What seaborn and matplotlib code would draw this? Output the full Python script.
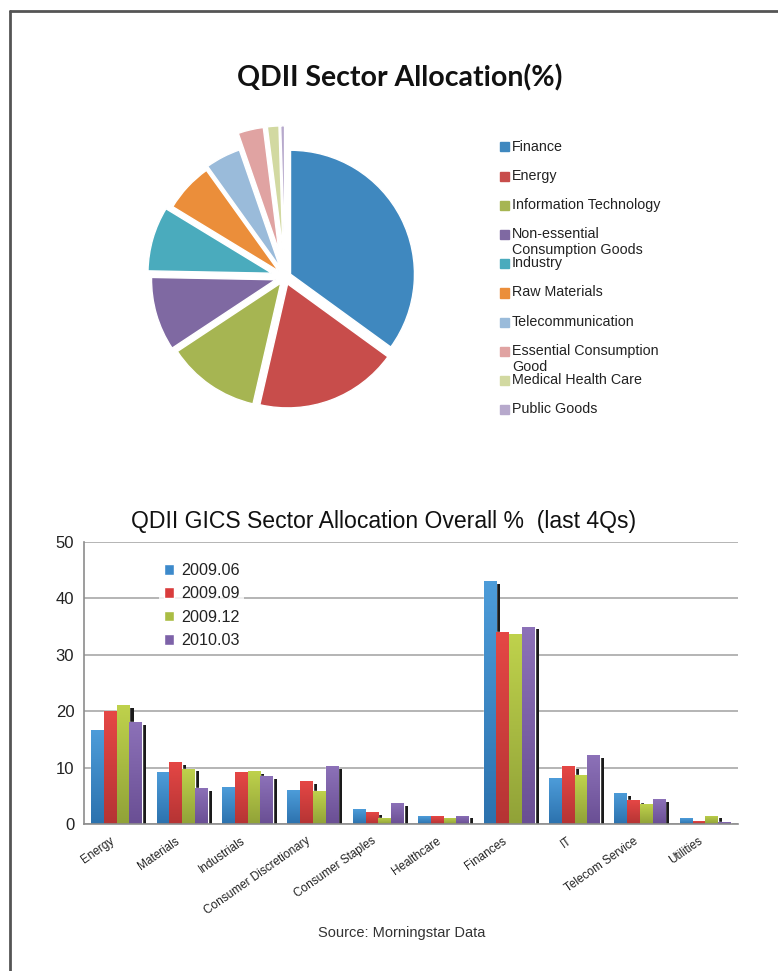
import numpy as np
import pandas as pd
import matplotlib
matplotlib.use('Agg')
import matplotlib.pyplot as plt
import matplotlib.transforms as mtransforms
import seaborn as sns
from matplotlib.colors import LinearSegmentedColormap
from matplotlib.patches import Rectangle
from matplotlib.lines import Line2D

# Pie data: QDII sector allocation (%)
pie_labels = ['Finance', 'Energy', 'Information Technology',
              'Non-essential\nConsumption Goods', 'Industry', 'Raw Materials',
              'Telecommunication', 'Essential Consumption\nGood',
              'Medical Health Care', 'Public Goods']
pie_values = [35.0, 18.6, 12.1, 9.6, 8.4, 6.4, 4.6, 3.3, 1.5, 0.5]
pie_explode = [0.05, 0.06, 0.06, 0.08, 0.11, 0.07, 0.09, 0.22, 0.22, 0.22]
pie_colors = ['#3F88BF', '#C84D4B', '#A6B552', '#7F69A2', '#4AABBD',
              '#EB8E3A', '#9ABBDA', '#E0A3A2', '#D2D9A1', '#B7A9CC']

# Bar data: GICS sector allocation, last 4 quarters
sectors = ['Energy', 'Materials', 'Industrials', 'Consumer Discretionary',
           'Consumer Staples', 'Healthcare', 'Finances', 'IT',
           'Telecom Service', 'Utilities']
quarters = ['2009.06', '2009.09', '2009.12', '2010.03']
q_2009_06 = [16.6, 9.2, 6.5, 6.0, 2.6, 1.4, 43.0, 8.1, 5.5, 1.0]
q_2009_09 = [20.0, 11.0, 9.2, 7.6, 2.1, 1.4, 34.1, 10.2, 4.2, 0.5]
q_2009_12 = [21.1, 9.8, 9.4, 5.8, 1.1, 1.1, 33.7, 8.6, 3.5, 1.5]
q_2010_03 = [18.1, 6.4, 8.5, 10.2, 3.7, 1.5, 35.0, 12.2, 4.4, 0.3]

bar_colors = ['#3D8ACB', '#D93C3C', '#AABD44', '#7D62A8']
grad_top = ['#4D9CD9', '#E54745', '#BFD24C', '#8C71B8']
grad_bottom = ['#2C72AE', '#B53434', '#91A238', '#6A4F94']

df = pd.DataFrame({
    'sector': sectors * 4,
    'quarter': np.repeat(quarters, len(sectors)),
    'value': q_2009_06 + q_2009_09 + q_2009_12 + q_2010_03,
})

sns.set_style('white')
plt.rcParams['font.family'] = ['Liberation Sans', 'DejaVu Sans']

W, H = 778, 971
fig = plt.figure(figsize=(W / 100, H / 100), dpi=100)


def fx(px):
    return px / W


def fy(py):
    return 1 - py / H


# ---- Pie chart ----
cx, cy, half = 285, 277, 145
ax_pie = fig.add_axes([fx(cx - half), fy(cy + half), fx(2 * half), 2 * half / H])
ax_pie.pie(pie_values, colors=pie_colors, startangle=90, counterclock=False,
           explode=pie_explode,
           wedgeprops=dict(edgecolor='white', linewidth=1))
ax_pie.set_xlim(-1.17, 1.17)
ax_pie.set_ylim(-1.17, 1.17)
ax_pie.set_aspect('equal')
ax_pie.axis('off')

fig.text(fx(400), fy(78), 'QDII Sector Allocation(%)', ha='center', va='center',
         fontsize=20.5, fontweight='bold', family=['Lato', 'DejaVu Sans'], color='#111111')

# manual legend for the pie
for i, (lab, col) in enumerate(zip(pie_labels, pie_colors)):
    ry = 147 + i * 29.2
    fig.patches.append(Rectangle((fx(500), fy(ry + 4.5)), fx(9), 9 / H, color=col,
                                 transform=fig.transFigure, figure=fig))
    fig.text(fx(512), fy(ry - 7.5), lab, ha='left', va='top', fontsize=10.3,
             color='#222222', linespacing=1.15)

# ---- Bar chart ----
ax = fig.add_axes([fx(84), fy(824), fx(738 - 84), (824 - 542) / H])
sns.barplot(data=df, x='sector', y='value', hue='quarter', palette=bar_colors,
            width=0.78, ax=ax, zorder=2, saturation=1)

ax.set_ylim(0, 50)
ax.set_xlim(-0.5, len(sectors) - 0.5)

# shadows and gradient fills for every bar
bars = [p for p in ax.patches if p.get_height() > 0]
for p in bars:
    x, w, h = p.get_x(), p.get_width(), p.get_height()
    fc = matplotlib.colors.to_hex(p.get_facecolor()).upper()
    k = bar_colors.index(fc) if fc in bar_colors else 0
    ax.add_patch(Rectangle((x + 0.32 * w, 0), w, max(h - 0.47, 0),
                           color='#1a1a1a', zorder=1.8, lw=0))
    cmap = LinearSegmentedColormap.from_list('g', [grad_bottom[k], grad_top[k]])
    grad = np.linspace(0, 1, 64).reshape(-1, 1)
    im = ax.imshow(grad, extent=[x, x + w, 0, h], origin='lower', cmap=cmap,
                   aspect='auto', zorder=2.5, interpolation='bilinear')
    im.set_clip_path(p)

ax.set_ylim(0, 50)
ax.set_xlim(-0.5, len(sectors) - 0.5)
ax.set_yticks(range(0, 51, 10))
ax.yaxis.grid(True, color='#AFAFAF', lw=1.3)
ax.set_axisbelow(True)
for s in ['top', 'right']:
    ax.spines[s].set_visible(False)
for s in ['left', 'bottom']:
    ax.spines[s].set_color('#8C8C8C')
    ax.spines[s].set_linewidth(1.2)
ax.set_xlabel('')
ax.set_ylabel('')
ax.tick_params(axis='y', which='major', length=4, color='#8C8C8C', labelsize=12,
               labelcolor='#222222', pad=3)
ax.set_xticks(np.arange(-0.5, len(sectors), 1), minor=True)
ax.tick_params(axis='x', which='minor', length=4, color='#8C8C8C', direction='out')
ax.tick_params(axis='x', which='major', length=0, pad=8)
ax.set_xticks(range(len(sectors)))
ax.set_xticklabels(sectors, rotation=35, ha='right', rotation_mode='anchor',
                   fontsize=8.5, color='#222222')
shift = mtransforms.ScaledTranslation(-5 / 72, 0, fig.dpi_scale_trans)
for lbl in ax.get_xticklabels():
    lbl.set_transform(lbl.get_transform() + shift)

handles, labels = ax.get_legend_handles_labels()
leg = ax.legend(handles, labels, loc='upper left',
                bbox_to_anchor=(fx(159), fy(558)), bbox_transform=fig.transFigure,
                fontsize=11.6, frameon=True, fancybox=False, handlelength=0.65,
                handleheight=0.65, handletextpad=0.4, labelspacing=0.52,
                borderpad=0.3, borderaxespad=0)
leg.get_frame().set_edgecolor('none')
leg.get_frame().set_facecolor('white')
leg.set_zorder(5)
for t in leg.get_texts():
    t.set_color('#222222')

fig.text(fx(384), fy(521), 'QDII GICS Sector Allocation Overall %  (last 4Qs)',
         ha='center', va='center', fontsize=16.6, color='#111111')

fig.text(fx(402), fy(933), 'Source: Morningstar Data', ha='center', va='center',
         fontsize=10.5, color='#333333')

# page frame
fig.add_artist(Line2D([fx(10), fx(10)], [0, fy(11)], color='#555555', lw=2))
fig.add_artist(Line2D([fx(10), 1], [fy(11), fy(11)], color='#555555', lw=2))

fig.savefig('out.png', dpi=100)
